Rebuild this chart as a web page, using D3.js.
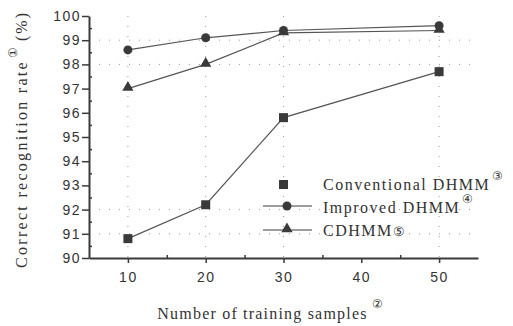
<!DOCTYPE html>
<html>
<head>
<meta charset="UTF-8">
<script src="https://cdn.jsdelivr.net/npm/d3@7"></script>
<style>
body { margin:0; background:#fff; }
.tick text { font-family: "Liberation Sans", Arial, sans-serif; font-size:14px; letter-spacing:1.5px; fill:#333; }
.ttl { font-family: "Liberation Serif", "Times New Roman", serif; font-size:16px; fill:#333; }
.grid line { stroke:#999; stroke-dasharray:1,9; stroke-width:1; }
</style>
</head>
<body>
<svg width="513" height="326"></svg>
<script>
var samples = [10, 20, 30, 50];
var conventional = [90.8, 92.2, 95.8, 97.7];
var improved = [98.6, 99.1, 99.4, 99.6];
var cdhmm = [97.0, 98.0, 99.3, 99.4];
var xTicks = [10, 20, 30, 40, 50];
var yTicks = [90, 91, 92, 93, 94, 95, 96, 97, 98, 99, 100];

var svg = d3.select("svg");
var x = d3.scaleLinear().domain([5, 55]).range([89, 478]);
var y = d3.scaleLinear().domain([90, 100]).range([258, 16]);
var ink = "#3a3a3a";

// faint dotted grid
var grid = svg.append("g").attr("class", "grid");
grid.selectAll("line.v").data(samples).enter().append("line")
  .attr("x1", d => x(d)).attr("x2", d => x(d)).attr("y1", y(100)).attr("y2", y(90));
grid.selectAll("line.h").data([91, 92, 98, 99]).enter().append("line")
  .attr("x1", x(5)).attr("x2", x(55)).attr("y1", d => y(d)).attr("y2", d => y(d));

// axes
svg.append("g").attr("transform", "translate(0," + y(90) + ")")
  .call(d3.axisBottom(x).tickValues(xTicks).tickSize(5).tickPadding(9).tickSizeOuter(0));
svg.append("g").attr("transform", "translate(0," + y(90) + ")")
  .call(d3.axisTop(x).tickValues([15, 25, 35, 45]).tickSize(3).tickFormat("").tickSizeOuter(0))
  .select(".domain").remove();
svg.append("g").attr("transform", "translate(" + x(5) + ",0)")
  .call(d3.axisLeft(y).tickValues(yTicks).tickSize(7).tickPadding(1).tickSizeOuter(0));
svg.append("g").attr("transform", "translate(" + x(5) + ",0)")
  .call(d3.axisRight(y).tickValues(d3.range(90.5, 100, 1)).tickSize(3).tickFormat("").tickSizeOuter(0))
  .select(".domain").remove();
svg.selectAll(".domain").attr("stroke", ink).attr("stroke-width", 2);
svg.selectAll(".tick line").attr("stroke", ink).attr("stroke-width", 1.5);

// lines
var line = d3.line().x((d, i) => x(samples[i])).y(d => y(d));
[conventional, improved, cdhmm].forEach(function(s) {
  svg.append("path").attr("d", line(s)).attr("fill", "none")
    .attr("stroke", "#555").attr("stroke-width", 1.2);
});

// markers
svg.selectAll("rect.m").data(conventional).enter().append("rect")
  .attr("x", (d, i) => x(samples[i]) - 4.5).attr("y", d => y(d) - 4.5)
  .attr("width", 9).attr("height", 9).attr("fill", ink);
svg.selectAll("circle.m").data(improved).enter().append("circle")
  .attr("cx", (d, i) => x(samples[i])).attr("cy", d => y(d)).attr("r", 4.5).attr("fill", ink);
var tri = d3.symbol().type(d3.symbolTriangle).size(55);
svg.selectAll("path.m").data(cdhmm).enter().append("path")
  .attr("d", tri).attr("fill", ink)
  .attr("transform", (d, i) => "translate(" + x(samples[i]) + "," + (y(d) - 1) + ")");

// legend
var leg = svg.append("g");
leg.append("rect").attr("x", 279).attr("y", 180).attr("width", 9).attr("height", 9).attr("fill", ink);
leg.append("line").attr("x1", 263).attr("x2", 312).attr("y1", 206).attr("y2", 206).attr("stroke", ink);
leg.append("circle").attr("cx", 287).attr("cy", 206).attr("r", 4.5).attr("fill", ink);
leg.append("line").attr("x1", 263).attr("x2", 312).attr("y1", 230).attr("y2", 230).attr("stroke", ink);
leg.append("path").attr("d", tri).attr("fill", ink).attr("transform", "translate(287,229)");
var legText = [["Conventional DHMM", "\u2462", 190, 1], ["Improved DHMM", "\u2463", 213, 1], ["CDHMM", "\u2464", 236, 0]];
legText.forEach(function(t) {
  var tx = leg.append("text").attr("class", "ttl").attr("x", 323).attr("y", t[2])
    .attr("letter-spacing", 1.5).text(t[0]);
  if (t[3]) tx.append("tspan").attr("font-size", 12).attr("dy", -10).attr("dx", 2).attr("letter-spacing", 0).text(t[1]);
  else tx.append("tspan").attr("font-size", 13).attr("letter-spacing", 0).text(t[1]);
});

// axis titles
svg.append("text").attr("class", "ttl").attr("x", 270).attr("y", 319).attr("text-anchor", "middle")
  .attr("letter-spacing", 1.2)
  .text("Number of training samples")
  .append("tspan").attr("font-size", 12).attr("dy", -11).attr("dx", 4).attr("letter-spacing", 0).text("\u2461");
svg.append("text").attr("class", "ttl").attr("transform", "translate(27,268) rotate(-90)")
  .attr("letter-spacing", 2.3)
  .text("Correct recognition rate")
  .call(t => t.append("tspan").attr("font-size", 12).attr("dy", -10).attr("dx", 2).attr("letter-spacing", 0).text("\u2460"))
  .call(t => t.append("tspan").attr("dy", 10).attr("dx", 6).attr("letter-spacing", 2).text("(%)"));
</script>
</body>
</html>
